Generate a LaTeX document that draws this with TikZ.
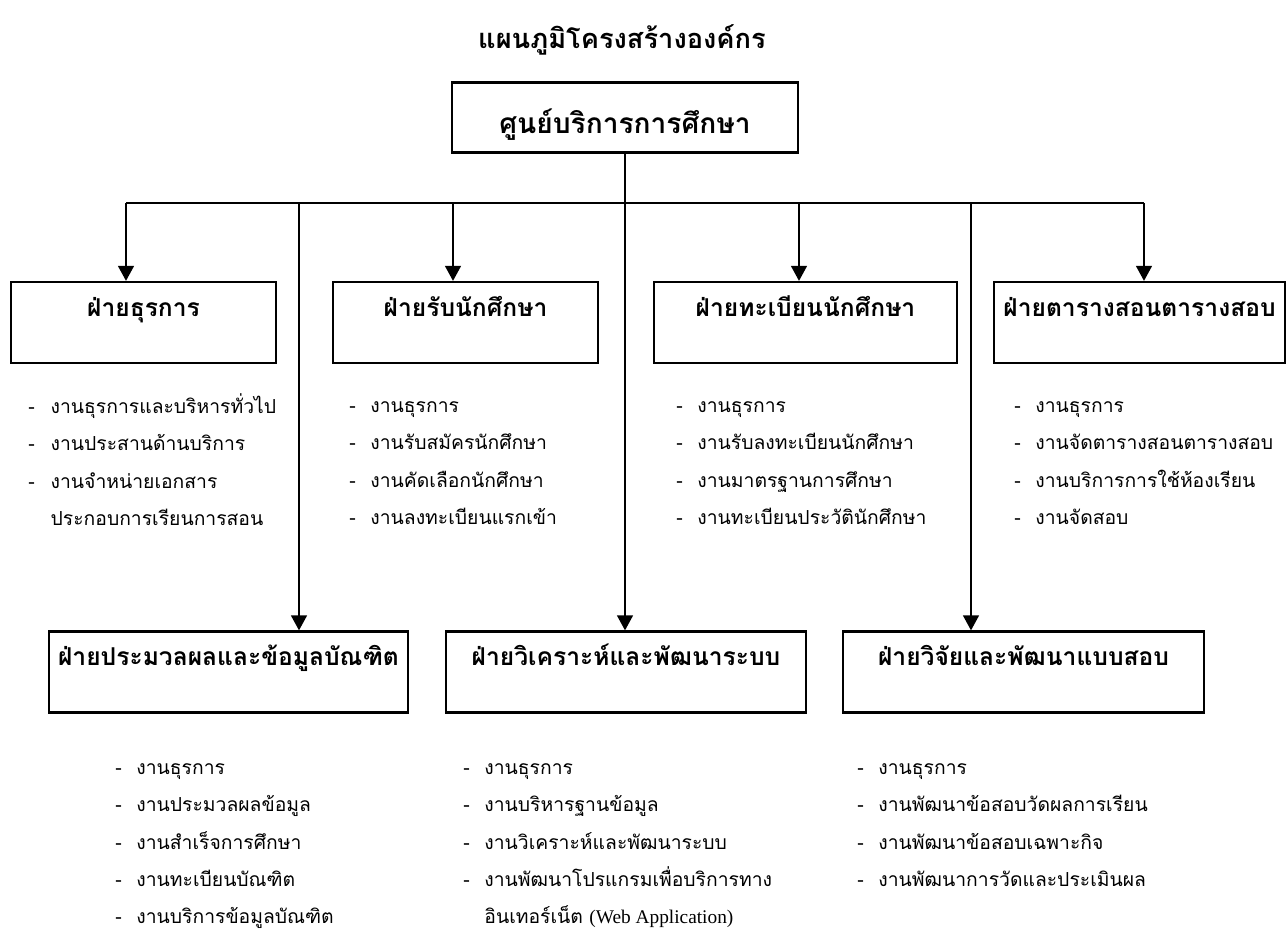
\documentclass[tikz,border=0pt]{standalone}
\usepackage{fontspec}
\setmainfont{Liberation Serif}
\newfontfamily\thaifont[Script=Thai]{Loma}
\usetikzlibrary{arrows.meta,positioning,calc}

\newcommand{\bul}[1][12pt]{\makebox[#1][l]{-}}
\newcommand{\cont}[1][12pt]{\makebox[#1]{}}

\begin{document}
\begin{tikzpicture}[x=0.02cm, y=-0.02cm,
  center/.style={
    draw, rectangle, line width=1.4pt, inner sep=0pt,
    minimum width=346*0.02cm, text height=29pt, text depth=11pt,
    font=\thaifont\bfseries\fontsize{16}{19}\selectfont
  },
  unit/.style={
    draw, rectangle, line width=1.4pt, inner sep=0pt,
    text height=19.5pt, text depth=26.5pt,
    font=\thaifont\bfseries\fontsize{14}{17}\selectfont
  },
  tasks/.style={
    anchor=north west, align=left, inner sep=0pt,
    font=\thaifont\fontsize{11}{21.3}\selectfont
  },
  edge/.style={-{Triangle[width=9pt,length=8.5pt]}, line width=1pt},
  link/.style={line width=1pt}
]
\useasboundingbox (0,0) rectangle (1288,936);

% title and head unit
\node[font=\thaifont\bfseries\fontsize{15.5}{18}\selectfont] (title) at (622,40) {แผนภูมิโครงสร้างองค์กร};
\node[center] (top) at (625,117.5) {ศูนย์บริการการศึกษา};

% first row
\node[unit, minimum width=265*0.02cm] (b1) at (143.5,322.5) {ฝ่ายธุรการ};
\node[unit, minimum width=265*0.02cm] (b2) at (465.5,322.5) {ฝ่ายรับนักศึกษา};
\node[unit, minimum width=303*0.02cm] (b3) at (805.5,322.5) {ฝ่ายทะเบียนนักศึกษา};
\node[unit, minimum width=291*0.02cm] (b4) at (1139.5,322.5) {ฝ่ายตารางสอนตารางสอบ};

% second row
\node[unit, minimum width=359*0.02cm] (c1) at (228.5,672) {ฝ่ายประมวลผลและข้อมูลบัณฑิต};
\node[unit, minimum width=360*0.02cm] (c2) at (626,672) {ฝ่ายวิเคราะห์และพัฒนาระบบ};
\node[unit, minimum width=361*0.02cm] (c3) at (1023.5,672) {ฝ่ายวิจัยและพัฒนาแบบสอบ};

% task lists
\node[tasks] (l1) at (28,393) {\bul[9pt] งานธุรการและบริหารทั่วไป\\ \bul[9pt] งานประสานด้านบริการ\\ \bul[9pt] งานจำหน่ายเอกสาร\\ \cont[9pt] ประกอบการเรียนการสอน};
\node[tasks] (l2) at (349,401) {\bul งานธุรการ\\ \bul งานรับสมัครนักศึกษา\\ \bul งานคัดเลือกนักศึกษา\\ \bul งานลงทะเบียนแรกเข้า};
\node[tasks] (l3) at (676,401) {\bul งานธุรการ\\ \bul งานรับลงทะเบียนนักศึกษา\\ \bul งานมาตรฐานการศึกษา\\ \bul งานทะเบียนประวัตินักศึกษา};
\node[tasks] (l4) at (1014,401) {\bul งานธุรการ\\ \bul งานจัดตารางสอนตารางสอบ\\ \bul งานบริการการใช้ห้องเรียน\\ \bul งานจัดสอบ};
\node[tasks] (l5) at (115,763) {\bul งานธุรการ\\ \bul งานประมวลผลข้อมูล\\ \bul งานสำเร็จการศึกษา\\ \bul งานทะเบียนบัณฑิต\\ \bul งานบริการข้อมูลบัณฑิต};
\node[tasks] (l6) at (463,763) {\bul งานธุรการ\\ \bul งานบริหารฐานข้อมูล\\ \bul งานวิเคราะห์และพัฒนาระบบ\\ \bul งานพัฒนาโปรแกรมเพื่อบริการทาง\\ \cont อินเทอร์เน็ต {\rmfamily (Web Application)}};
\node[tasks] (l7) at (857,763) {\bul งานธุรการ\\ \bul งานพัฒนาข้อสอบวัดผลการเรียน\\ \bul งานพัฒนาข้อสอบเฉพาะกิจ\\ \bul งานพัฒนาการวัดและประเมินผล};

% bus line
\coordinate (d1) at (126,203);
\coordinate (d2) at (453,203);
\coordinate (d3) at (799,203);
\coordinate (d4) at (1144,203);
\coordinate (d5) at (299,203);
\coordinate (d6) at (971,203);

\draw[link] (d1) -- (d4);
\draw[edge] (top) -- (top |- c2.north);
\draw[edge] (d1) -- (d1 |- b1.north);
\draw[edge] (d2) -- (d2 |- b2.north);
\draw[edge] (d3) -- (d3 |- b3.north);
\draw[edge] (d4) -- (d4 |- b4.north);
\draw[edge] (d5) -- (d5 |- c1.north);
\draw[edge] (d6) -- (d6 |- c3.north);

\end{tikzpicture}
\end{document}
